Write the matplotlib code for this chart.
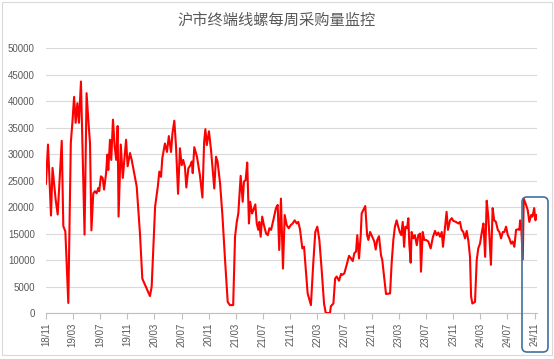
import matplotlib
matplotlib.use("Agg")
import matplotlib.pyplot as plt
import matplotlib.dates as mdates
from matplotlib.patches import FancyBboxPatch, Rectangle
import pandas as pd

TITLE = "沪市终端线螺每周采购量监控"
START = "2018-11-01"

# weeks since START, weekly purchase volume
weeks = [
    0.0, 1.3, 3.2, 4.2, 6.2, 7.5, 8.6, 10.1, 11.1, 12.4, 14.3, 15.9, 16.9, 18.0,
    19.0, 20.1, 21.1, 22.4, 24.7, 26.0, 27.4, 28.2, 29.1, 30.3, 31.4, 32.4, 33.5,
    34.1, 35.2, 36.3, 37.2, 38.5, 39.3, 39.9, 41.0, 41.8, 42.9, 44.0, 45.0, 45.9,
    46.5, 47.9, 49.2, 50.2, 51.3, 52.3, 53.8, 54.9, 58.1,
    60.2, 61.7, 66.6, 67.7, 69.9, 71.6, 72.6, 73.7, 74.5, 76.2, 77.5, 78.7, 80.1,
    81.0, 82.2, 83.3, 84.6, 85.8, 86.9, 87.9, 89.0, 89.9, 91.2, 92.5, 93.4, 94.0,
    95.0, 96.7, 98.6, 100.2, 101.3, 102.1, 103.0, 104.4, 105.7, 107.8, 108.9,
    109.9, 111.5, 113.0, 114.7, 116.4, 117.8, 119.9,
    121.1, 122.2, 123.2, 124.7, 126.0, 126.8, 127.9, 128.9, 130.0, 130.8, 132.0,
    132.8, 134.1, 135.0, 136.0, 136.6, 137.5, 138.5, 139.6, 141.0, 142.1, 143.1,
    144.2, 145.6, 147.3, 148.4, 149.4, 150.5, 151.8, 152.9, 154.2, 155.5, 156.8,
    158.0, 159.3, 160.6, 161.6, 162.7, 164.2, 165.3, 166.6, 167.6, 169.7, 171.2,
    172.5, 173.8, 175.1, 176.6, 178.1, 179.2,
    181.9, 182.5, 184.1, 185.2, 186.2, 187.7, 189.0, 189.8, 191.1, 192.6, 194.1,
    195.4, 196.5, 197.5, 198.6, 199.4, 200.5, 201.6, 202.2, 203.2, 204.5, 205.7,
    206.5, 207.6, 209.0, 210.3, 211.2, 212.2, 213.3, 214.6, 215.4, 216.8, 217.8,
    220.4, 221.4, 222.5, 223.5, 224.6, 225.6, 226.6, 227.6, 228.5, 229.4, 230.2,
    231.3, 232.1, 232.7, 233.6, 234.2, 235.3, 236.3, 237.5, 238.5, 239.6, 240.2,
    241.3,
    242.3, 243.4, 244.9, 246.4, 247.8, 249.2, 250.3, 251.3, 252.4, 253.5, 254.3,
    255.6, 256.6, 257.5, 258.8, 259.9, 260.9, 262.6, 264.1, 265.2, 266.2, 267.3,
    268.4, 269.5, 270.6, 271.6, 272.3, 273.1, 274.8, 275.9, 276.9, 278.0, 279.2,
    280.2, 281.3, 282.3, 283.3, 284.0, 285.0, 286.1, 287.1, 288.2, 289.4, 290.4,
    291.5, 292.6, 293.6, 294.7, 295.8, 296.8, 297.9, 298.9, 300.0, 301.1, 302.2,
    303.2, 303.7, 304.3, 305.4, 306.0, 307.5, 308.6, 309.6, 310.8, 311.6, 312.7,
    313.5, 314.4,
]
volume = [
    24400, 31800, 18400, 27400, 21400, 18600, 24500, 32500, 16400, 15400, 1900,
    32100, 35900, 40800, 35900, 39600, 35900, 43700, 14800, 41500, 35200, 32100,
    15600, 22600, 23000, 22600, 23600, 23000, 25800, 25500, 23300, 26400, 29900,
    27000, 32700, 28900, 36500, 31400, 28900, 35300, 18200, 31800, 25500, 28900,
    32700, 27700, 30200, 28900, 23900,
    15000, 6500, 3200, 5000, 20100, 23800, 26700, 25700, 29200, 32000, 30400,
    33400, 30400, 33900, 36300, 31400, 22500, 31100, 27900, 28900, 27600, 23700,
    27300, 27900, 28600, 26400, 31300, 29500, 26000, 21800, 32300, 34700, 31700,
    34300, 30800, 23500, 29500, 28600, 24500, 18500, 10000, 2100, 1500, 1500,
    14400, 17200, 18800, 25900, 21000, 24800, 25100, 28400, 16900, 21000, 18800,
    19400, 20500, 16900, 15700, 17200, 14400, 18200, 16600, 15000, 14700, 16000,
    15700, 17500, 19800, 20400, 11900, 21600, 8400, 18500, 16600, 16000, 16600,
    16900, 17500, 16900, 17200, 15800, 12200, 12500, 7500, 3700, 1500, 9400,
    15300, 16300, 13800, 8100, 1800, 0,
    0, 1300, 1800, 6500, 6900, 6100, 7400, 7200, 7500, 9100, 10800,
    10300, 9800, 11300, 11600, 14700, 10300, 14700, 18800, 19400, 20200, 14700,
    13800, 15300, 14400, 13500, 12000, 13800, 14500, 10900, 10000, 6200, 3600,
    3700, 9400, 13800, 16300, 17500, 16300, 15300, 14700, 17200, 12500, 16300,
    16000, 17900, 13100, 9500, 15300, 14100, 14700, 12800, 14700, 15000, 7800,
    15300,
    13800, 13800, 13500, 12200, 14300, 15500, 14700, 15200, 14400, 15300, 12500,
    16300, 19100, 15700, 17500, 17900, 17400, 17200, 16900, 17200, 15700, 15300,
    14100, 15500, 13500, 10600, 3100, 1800, 2100, 10000, 12200, 13100, 15300,
    16900, 10600, 21200, 18200, 14700, 9100, 19800, 17500, 17200, 15700, 15300,
    14100, 15300, 15300, 16300, 14700, 14100, 13100, 13500, 12500, 15700, 15800,
    15700, 17500, 16900, 10100, 21600, 20400, 19400, 17200, 18500, 18200, 19800,
    17500, 18500,
]

TEXT = "#595959"
GRID = "#D9D9D9"

dates = pd.Timestamp(START) + pd.to_timedelta([w * 7 for w in weeks], unit="D")

fig = plt.figure(figsize=(5.54, 3.59), dpi=100)
ax = fig.add_axes([0.083, 0.128, 0.886, 0.738])

ax.plot(dates, volume, color="#FF0000", linewidth=1.5, solid_joinstyle="round", zorder=3)

ax.set_ylim(0, 50000)
ax.set_yticks(range(0, 50001, 5000))
ax.set_xlim(pd.Timestamp(START), dates[-1])
ax.xaxis.set_major_locator(mdates.MonthLocator(bymonth=[3, 7, 11]))
ax.xaxis.set_major_formatter(mdates.DateFormatter("%y/%m"))

ax.grid(axis="y", color=GRID, linewidth=0.8)
ax.set_axisbelow(True)
for side in ("top", "right", "left"):
    ax.spines[side].set_visible(False)
ax.spines["bottom"].set_color("#BFBFBF")
ax.spines["bottom"].set_linewidth(0.8)

ax.tick_params(axis="y", length=0, pad=8, labelsize=7, labelcolor=TEXT)
ax.tick_params(axis="x", length=4, width=0.8, color="#BFBFBF", direction="out",
               pad=3, labelsize=7, labelcolor=TEXT, labelrotation=90)
for lab in ax.get_xticklabels() + ax.get_yticklabels():
    lab.set_fontfamily("Liberation Sans")

fig.text(0.5, 0.944, TITLE, ha="center", va="center", fontsize=11, color=TEXT,
         family=["Noto Sans CJK SC", "DejaVu Sans"])

# chart border and highlight box around the latest weeks
fig.patches.append(Rectangle((0.02, 0.04), 5.50, 3.53, transform=fig.dpi_scale_trans,
                             fill=False, edgecolor="#D9D9D9", linewidth=0.8))
fig.patches.append(FancyBboxPatch((5.22, 0.07), 0.26, 1.55,
                                  boxstyle="round,pad=0,rounding_size=0.05",
                                  transform=fig.dpi_scale_trans, fill=False,
                                  edgecolor="#41719C", linewidth=1.2, zorder=5))

fig.savefig("out.png", dpi=100)
